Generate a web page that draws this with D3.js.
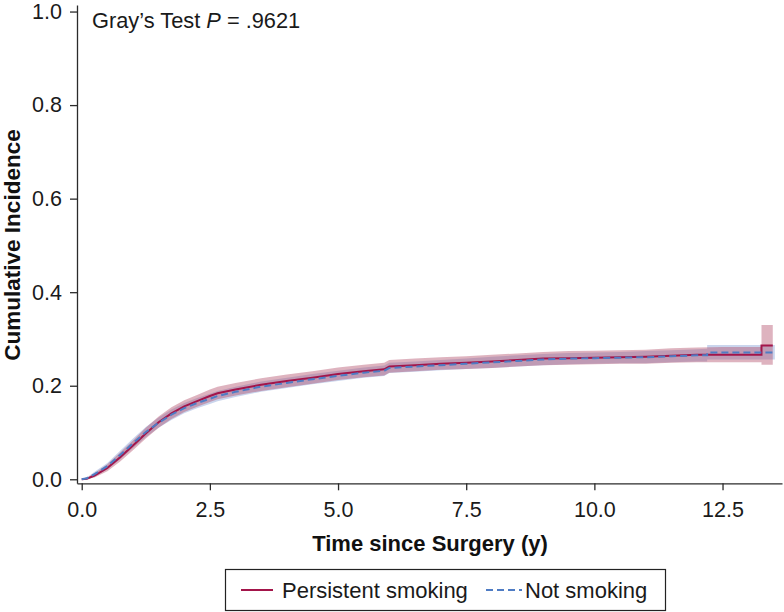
<!DOCTYPE html>
<html>
<head>
<meta charset="utf-8">
<script src="https://cdn.jsdelivr.net/npm/d3@7"></script>
<style>
  html, body { margin: 0; padding: 0; background: #fff; }
  svg { display: block; font-family: "Liberation Sans", Arial, Helvetica, sans-serif; }
</style>
</head>
<body>
<svg id="chart" width="784" height="612"></svg>
<script>
// ---- data ----
const seriesNames = ["Persistent smoking", "Not smoking"];
const xTicks = [0, 2.5, 5, 7.5, 10, 12.5];
const yTicks = [0, 0.2, 0.4, 0.6, 0.8, 1.0];

const timeSmoke = [0, 0.1, 0.25, 0.5, 0.75, 1.0, 1.25, 1.5, 1.75, 2.0, 2.25, 2.5, 2.65, 3.0, 3.5, 4.0, 4.5, 5.0, 5.5, 5.9, 6.0, 6.5, 7.0, 7.5, 8.0, 8.5, 9.0, 9.5, 10.0, 10.5, 11.0, 11.5, 12.0, 12.5, 13.26, 13.26, 13.48];
const cifSmoke  = [0, 0.001, 0.008, 0.024, 0.047, 0.072, 0.098, 0.122, 0.141, 0.156, 0.167, 0.178, 0.184, 0.192, 0.202, 0.210, 0.217, 0.225, 0.231, 0.235, 0.241, 0.244, 0.247, 0.249, 0.252, 0.255, 0.258, 0.259, 0.260, 0.261, 0.262, 0.264, 0.266, 0.266, 0.266, 0.286, 0.286];
const loSmoke   = [0, 0.000, 0.004, 0.017, 0.038, 0.062, 0.087, 0.110, 0.129, 0.144, 0.155, 0.165, 0.171, 0.179, 0.189, 0.197, 0.204, 0.212, 0.218, 0.222, 0.228, 0.231, 0.234, 0.236, 0.238, 0.241, 0.244, 0.245, 0.246, 0.247, 0.247, 0.249, 0.250, 0.250, 0.250, 0.245, 0.245];
const hiSmoke   = [0, 0.003, 0.013, 0.032, 0.057, 0.083, 0.110, 0.134, 0.154, 0.169, 0.180, 0.192, 0.198, 0.206, 0.216, 0.224, 0.231, 0.239, 0.245, 0.249, 0.255, 0.258, 0.261, 0.263, 0.266, 0.269, 0.272, 0.274, 0.275, 0.276, 0.277, 0.280, 0.282, 0.283, 0.283, 0.330, 0.330];

const timeNon = [0, 0.1, 0.25, 0.5, 0.75, 1.0, 1.25, 1.5, 1.75, 2.0, 2.25, 2.5, 2.65, 3.0, 3.5, 4.0, 4.5, 5.0, 5.5, 5.9, 6.0, 6.5, 7.0, 7.5, 8.0, 8.5, 9.0, 9.5, 10.0, 10.5, 11.0, 11.5, 12.0, 12.2, 12.2, 13.52];
const cifNon  = [0, 0.002, 0.011, 0.028, 0.052, 0.077, 0.101, 0.121, 0.138, 0.152, 0.163, 0.172, 0.178, 0.187, 0.198, 0.206, 0.214, 0.221, 0.228, 0.232, 0.238, 0.241, 0.244, 0.247, 0.250, 0.253, 0.256, 0.258, 0.259, 0.260, 0.261, 0.263, 0.265, 0.265, 0.271, 0.271];
const loNon   = [0, 0.000, 0.006, 0.021, 0.043, 0.067, 0.090, 0.110, 0.127, 0.141, 0.152, 0.161, 0.167, 0.176, 0.187, 0.195, 0.203, 0.210, 0.217, 0.221, 0.227, 0.230, 0.233, 0.236, 0.238, 0.241, 0.244, 0.246, 0.247, 0.248, 0.248, 0.250, 0.252, 0.252, 0.256, 0.256];
const hiNon   = [0, 0.004, 0.016, 0.035, 0.061, 0.087, 0.112, 0.132, 0.149, 0.163, 0.174, 0.183, 0.189, 0.198, 0.209, 0.217, 0.225, 0.232, 0.239, 0.243, 0.249, 0.252, 0.255, 0.258, 0.262, 0.265, 0.268, 0.270, 0.271, 0.272, 0.274, 0.276, 0.278, 0.279, 0.287, 0.287];

// ---- drawing ----
const svg = d3.select("#chart");
const x = d3.scaleLinear().domain([-0.092, 13.66]).range([77, 782]);
const y = d3.scaleLinear().domain([-0.0086, 1.014]).range([483.3, 5]);

const red = "#a3154a", blue = "#4f7cc4";
const axisColor = "#2b2b2b";

function rows(t, v, lo, hi) { return t.map((d, i) => ({ t: d, v: v[i], lo: lo[i], hi: hi[i] })); }
const smoke = rows(timeSmoke, cifSmoke, loSmoke, hiSmoke);
const non = rows(timeNon, cifNon, loNon, hiNon);

const area = d3.area().x(d => x(d.t)).y0(d => y(d.lo)).y1(d => y(d.hi));
const line = d3.line().x(d => x(d.t)).y(d => y(d.v));

svg.append("path").datum(non).attr("d", area).attr("fill", "#7b96d2").attr("fill-opacity", 0.4);
svg.append("path").datum(smoke).attr("d", area).attr("fill", "#b04a66").attr("fill-opacity", 0.42);

svg.append("path").datum(smoke).attr("d", line).attr("fill", "none").attr("stroke", red).attr("stroke-width", 2);
svg.append("path").datum(non).attr("d", line).attr("fill", "none").attr("stroke", blue).attr("stroke-width", 2).attr("stroke-dasharray", "7,4");

// axes
const fmt = d3.format(".1f");
const xAxis = svg.append("g").attr("transform", "translate(0,483.3)")
  .call(d3.axisBottom(x).tickValues(xTicks).tickFormat(fmt).tickSize(7).tickSizeOuter(0).tickPadding(11));
const yAxis = svg.append("g").attr("transform", "translate(77,0)")
  .call(d3.axisLeft(y).tickValues(yTicks).tickFormat(fmt).tickSize(7).tickSizeOuter(0).tickPadding(8));
[xAxis, yAxis].forEach(g => {
  g.selectAll("path.domain").attr("stroke", axisColor).attr("stroke-width", 1.3);
  g.selectAll(".tick line").attr("stroke", axisColor).attr("stroke-width", 1.3);
  g.selectAll(".tick text").attr("fill", "#1a1a1a").style("font-size", "21.5px").style("font-family", "'Liberation Sans', Arial, sans-serif");
});

// axis titles
svg.append("text").attr("x", 430).attr("y", 551).attr("text-anchor", "middle")
  .style("font-size", "22px").style("font-weight", "bold").attr("fill", "#111")
  .text("Time since Surgery (y)");
svg.append("text").attr("transform", "translate(20,245) rotate(-90)").attr("text-anchor", "middle")
  .style("font-size", "22.5px").style("font-weight", "bold").attr("fill", "#111")
  .text("Cumulative Incidence");

// annotation
const ann = svg.append("text").attr("x", 92).attr("y", 28).style("font-size", "21.8px").attr("fill", "#1a1a1a");
ann.append("tspan").text("Gray\u2019s Test ");
ann.append("tspan").style("font-style", "italic").text("P");
ann.append("tspan").text(" = .9621");

// legend
const leg = svg.append("g");
leg.append("rect").attr("x", 225.5).attr("y", 569.5).attr("width", 440).attr("height", 41)
  .attr("fill", "#fff").attr("stroke", "#222").attr("stroke-width", 1.2);
leg.append("line").attr("x1", 241).attr("x2", 273).attr("y1", 590).attr("y2", 590).attr("stroke", red).attr("stroke-width", 2);
leg.append("text").attr("x", 282).attr("y", 597.5).style("font-size", "22px").attr("fill", "#1a1a1a").text(seriesNames[0]);
leg.append("line").attr("x1", 486).attr("x2", 522).attr("y1", 590).attr("y2", 590).attr("stroke", blue).attr("stroke-width", 2).attr("stroke-dasharray", "7,4");
leg.append("text").attr("x", 525).attr("y", 597.5).style("font-size", "22px").attr("fill", "#1a1a1a").text(seriesNames[1]);
</script>
</body>
</html>
